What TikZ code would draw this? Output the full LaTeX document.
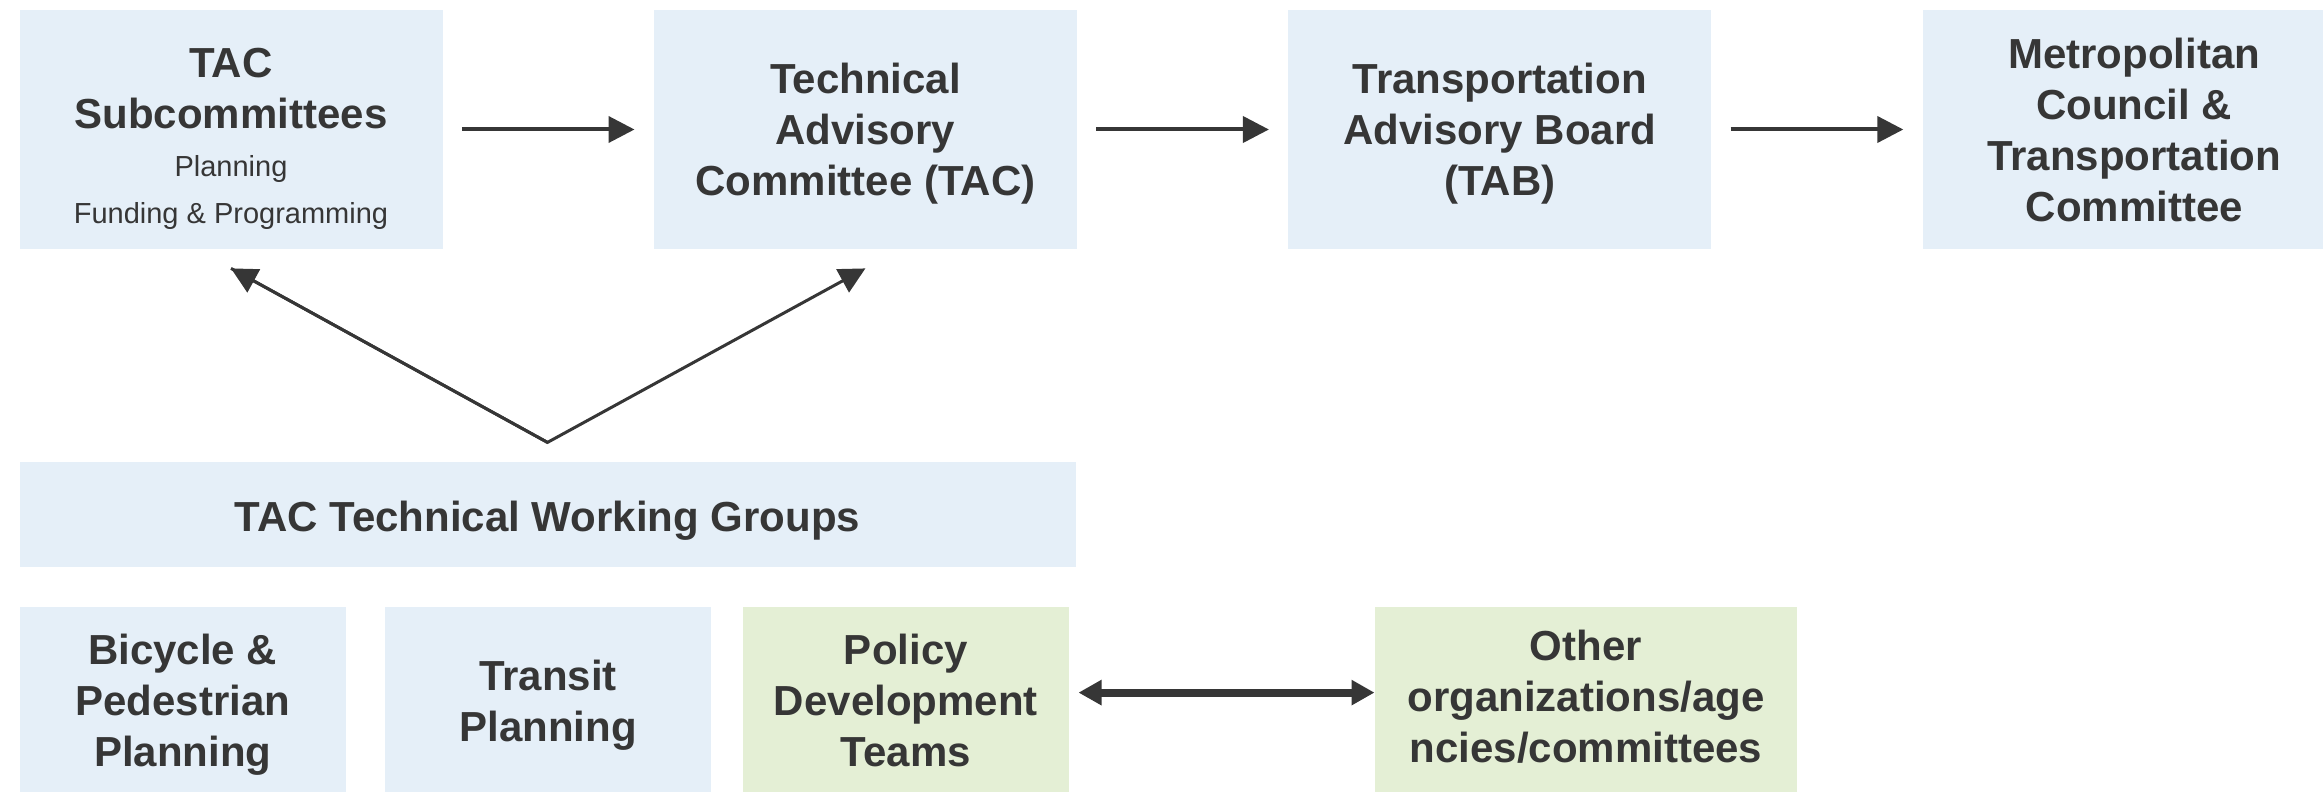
\documentclass[tikz,border=0pt]{standalone}
\usepackage{fontspec}
\setmainfont{Liberation Sans}
\usetikzlibrary{positioning,arrows.meta}

\definecolor{boxblue}{HTML}{E5EFF8}
\definecolor{boxgreen}{HTML}{E4EFD5}
\definecolor{ink}{HTML}{363636}

\newcommand{\sublines}{\mdseries\fontsize{14.5}{23.5}\selectfont}

\begin{document}
\begin{tikzpicture}[x=0.5pt,y=-0.5pt,
    blk/.style={fill=boxblue, text=ink, align=center, inner sep=0pt, text depth=0pt,
      font=\bfseries\fontsize{21}{25.5}\selectfont,
      execute at begin node={\rule{0pt}{16.8pt}}},
    topbox/.style={blk, minimum width=211.5pt, minimum height=119.5pt},
    lowbox/.style={blk, minimum width=163.25pt, minimum height=94pt},
    grn/.style={fill=boxgreen},
    flow/.style={draw=ink, line width=2pt, -{Triangle[length=13pt,width=13pt]},
      shorten <=9.5pt, shorten >=9.5pt},
    feed/.style={draw=ink, line width=1.5pt, -{Triangle[length=13pt,width=13pt]}},
    both/.style={draw=ink, line width=4pt,
      {Triangle[length=11.5pt,width=12pt]}-{Triangle[length=11.5pt,width=12pt]}}]
  \useasboundingbox (0,0) rectangle (2323,792);
  \clip (0,0) rectangle (2323,792);

  \node [topbox] (sub) at (231,129.5) {\rule{0pt}{20.5pt}TAC\\Subcommittees\\[-1.25pt]
    {\sublines Planning}\\[-2.25pt]{\sublines Funding \& Programming}};
  \node [topbox, right=105.3pt of sub] (tac) {Technical\\Advisory\\Committee (TAC)};
  \node [topbox, right=105.3pt of tac] (tab) {Transportation\\Advisory Board\\(TAB)};
  \node [topbox, right=105.3pt of tab] (met) {Metropolitan\\Council \&\\Transportation\\Committee};

  \node [blk, minimum width=528pt, minimum height=52.5pt,
    below right=106pt and 0pt of sub.south west] (twg) {TAC Technical Working Groups};

  \node [lowbox, below right=19.5pt and 0pt of twg.south west] (bike) {Bicycle \&\\Pedestrian\\Planning};
  \node [lowbox, right=19pt of bike] (transit) {Transit\\Planning};
  \node [lowbox, grn, right=15.25pt of transit] (policy) {Policy\\Development\\Teams};
  \node [lowbox, grn, minimum width=211pt, text depth=4.5pt, right=152.5pt of policy] (other)
    {Other\\organizations/age\\ncies/committees};

  \draw [flow] (sub) -- (tac);
  \draw [flow] (tac) -- (tab);
  \draw [flow] (tab) -- (met);

  \coordinate (fork) at ([yshift=9.5pt]twg.north);
  \draw [feed] ([yshift=-9.5pt]sub.south) -- (fork) -- ([yshift=-9.5pt]tac.south);
  \draw [feed] (fork) -- ([yshift=-9.5pt]sub.south);

  \draw [both, shorten <=4.5pt] ([yshift=4pt]policy.east) -- ([yshift=4pt]other.west);
\end{tikzpicture}
\end{document}
